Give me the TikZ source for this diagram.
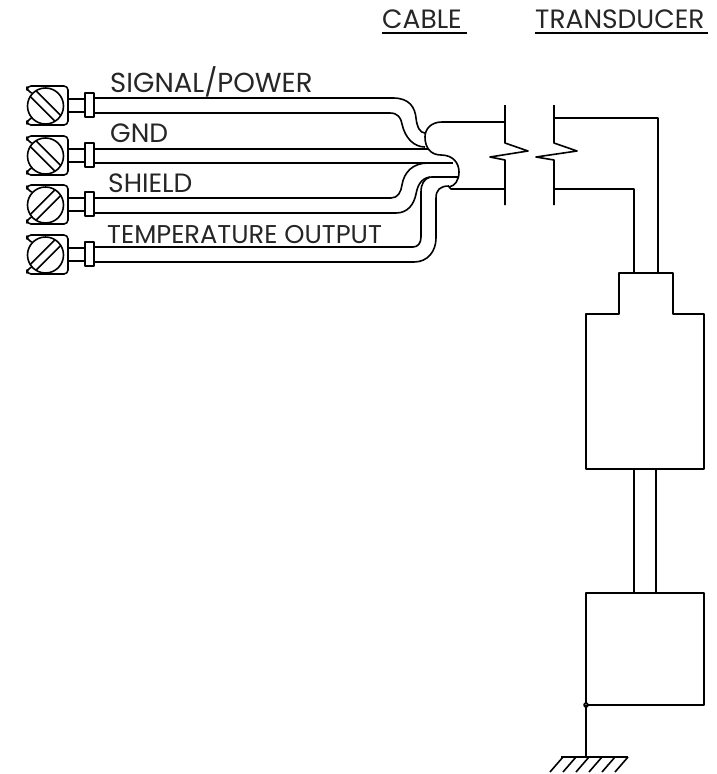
\documentclass[tikz,border=0pt]{standalone}
\usepackage{fontspec}
\setmainfont{Poppins}
\tikzset{
  wire/.style = {line width=1.6pt, line join=round},
  label/.style = {anchor=base west, inner sep=0pt, font=\fontsize{26.5}{26.5}\selectfont, color=black!85}
}

\begin{document}
\begin{tikzpicture}[x=1pt,y=-1pt]
  \useasboundingbox (0,0) rectangle (716,774);
  % terminal screws
  \foreach \y/\a in { 106/-45, 156/-45, 205/45, 255/45 } {%
    \draw[wire,rounded corners=4pt] (32,\y-13) -- (27,\y-15) -- (27,\y-20) -- (68,\y-20) -- (68,\y+19) -- (27,\y+19) -- (27,\y+14) -- (32,\y+12);
    \draw[wire] (45.5,\y) circle (18);
    \begin{scope}[shift={(45.5,\y)},rotate=\a]
      \draw[wire] (-17.5,-4) -- (17.5,-4) (-17.5,4) -- (17.5,4);
    \end{scope}
    \draw[wire] (68,\y-7) -- (85,\y-7) (68,\y+6) -- (85,\y+6);
    \draw[wire,fill=white] (85,\y-13) rectangle (94,\y+11);
  }
  % labels
  \node[label,font=\fontsize{27.5}{27.5}\selectfont] (signal) at (110,92) {SIGNAL/POWER};
  \node[label] (gnd) at (110,142) {GND};
  \node[label] (shield) at (108,192) {SHIELD};
  \node[label,font=\fontsize{25.7}{25.7}\selectfont] (temp) at (107,243) {TEMPERATURE OUTPUT};
  \node[label] (cable) at (382,28) {CABLE};
  \node[label] (transducer) at (535,28) {TRANSDUCER};
  \draw[wire] (382,33) -- (467,33) (535,33) -- (708,33);
  % signal/power wire
  \draw[wire] (94,98) -- (393,98) .. controls (410,98) and (415,108) .. (416,118) .. controls (417,127) and (420,133) .. (425,133);
  \draw[wire] (94,113) -- (390,113) .. controls (398,113) and (401,118) .. (402,124) .. controls (405,138) and (414,147) .. (425,147);
  % gnd wire
  \draw[wire] (94,149) -- (428,149);
  \draw[wire] (94,163) -- (453,163);
  % shield wire
  \draw[wire] (94,198) -- (391,198) .. controls (398,198) and (401,192) .. (402,185) .. controls (404,172) and (413,163) .. (428,163);
  \draw[wire] (94,213) -- (396,213) .. controls (408,213) and (414,204) .. (416,194) .. controls (418,183) and (423,177) .. (432,177) -- (458,177);
  % temperature wire
  \draw[wire] (94,247) -- (413,247) .. controls (418,247) and (421,243) .. (421,237) -- (421,192) .. controls (421,184) and (424,179) .. (430,177);
  \draw[wire] (94,262) -- (414,262) .. controls (428,262) and (436,251) .. (436,238) -- (436,198) .. controls (436,190) and (440,186) .. (449,186);
  % cable sheath
  \draw[wire] (505,122) -- (442,122) .. controls (431,122) and (425,129) .. (425,137) .. controls (425,148) and (431,155) .. (441,155) .. controls (453,155) and (459,163) .. (459,172) .. controls (459,180) and (455,186) .. (449,187) -- (451,189) -- (505,189);
  % cable end
  \draw[wire] (505,105) -- (505,143) -- (528,151) -- (490,157) -- (505,160) -- (505,205);
  % transducer end
  \draw[wire] (554,105) -- (554,143) -- (577,151) -- (536,157) -- (554,160) -- (554,205);
  \draw[wire] (554,118) -- (658,118) -- (658,273);
  \draw[wire] (554,189) -- (634,189) -- (634,273);
  % transducer body
  \draw[wire] (619,314) -- (619,273) -- (673,273) -- (673,314) -- (704,314) -- (704,469) -- (586,469) -- (586,314) -- cycle;
  \draw[wire] (634,469) -- (634,593) (656,469) -- (656,593);
  \draw[wire] (586,593) rectangle (704,705);
  % ground
  \draw[wire,fill=gray] (586,705) circle (2);
  \draw[wire] (586,705) -- (586,757);
  \draw[wire] (561,757) -- (628,757);
  \foreach \x in { 0,...,5 } {%
    \draw[wire] (628-\x*13,757) -- (615-\x*13,772);
  }
\end{tikzpicture}
\end{document}
